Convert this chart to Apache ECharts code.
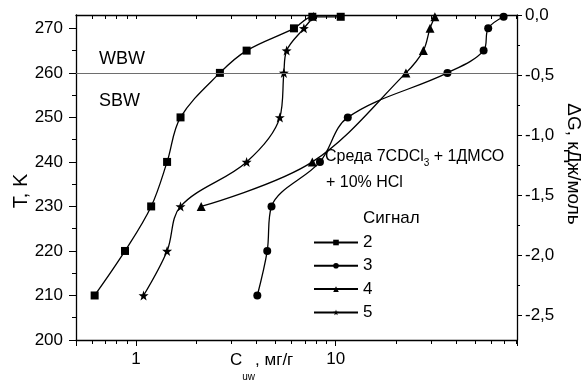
<!DOCTYPE html>
<html>
<head>
<meta charset="utf-8">
<script src="https://cdn.jsdelivr.net/npm/echarts@6/dist/echarts.min.js"></script>
<style>
  html, body { margin: 0; padding: 0; background: #fff; }
  #chart { width: 587px; height: 383px; }
</style>
</head>
<body>
<div id="chart"></div>
<script>
// signal 2 (squares)
const sig2T = [210, 220, 230, 240, 250, 260, 265, 270, 272.6, 272.6];
const sig2C = [0.62, 0.88, 1.19, 1.43, 1.67, 2.63, 3.58, 6.18, 7.64, 10.6];
// signal 3 (circles)
const sig3T = [210, 220, 230, 240, 250, 260, 265, 270, 272.6];
const sig3C = [4.05, 4.54, 4.77, 8.34, 11.5, 36.3, 55.1, 58.1, 69.4];
// signal 4 (triangles)
const sig4T = [230, 240, 260, 265, 270, 272.6];
const sig4C = [2.12, 7.64, 22.5, 27.5, 29.7, 31.4];
// signal 5 (stars)
const sig5T = [210, 220, 230, 240, 250, 260, 265, 270, 272.6];
const sig5C = [1.09, 1.43, 1.67, 3.58, 5.25, 5.5, 5.68, 6.93, 7.76];

const xMin = 0.5, xMax = 81;
const xMajor = [1, 10];
const xMinor = [0.6, 0.7, 0.8, 0.9, 2, 3, 4, 5, 6, 7, 8, 9, 20, 30, 40, 50, 60, 70, 80];
const tMajor = [200, 210, 220, 230, 240, 250, 260, 270];
const tMinor = [205, 215, 225, 235, 245, 255, 265];
const gMajor = [0, -0.5, -1, -1.5, -2, -2.5];
const gMinor = [-0.25, -0.75, -1.25, -1.75, -2.25];
const boundaryT = 260;

const FONT = 'Liberation Sans, Arial, sans-serif';
const STAR = 'path://M0,-10L2.35,-3.24L9.51,-3.09L3.8,1.24L5.88,8.09L0,4L-5.88,8.09L-3.8,1.24L-9.51,-3.09L-2.35,-3.24Z';

const chart = echarts.init(document.getElementById('chart'));

function line(name, C, T, symbol, size) {
  return {
    name: name,
    type: 'line',
    data: C.map((c, i) => [c, T[i]]),
    smooth: 0.35,
    symbol: symbol,
    symbolSize: size,
    showSymbol: true,
    lineStyle: { color: '#000', width: 1.3 },
    itemStyle: { color: '#000' },
    z: 3
  };
}

const series = [
  line('2', sig2C, sig2T, 'rect', 8),
  line('3', sig3C, sig3T, 'circle', 8),
  line('4', sig4C, sig4T, 'triangle', 9),
  line('5', sig5C, sig5T, STAR, 10)
];
series[0].markLine = {
  silent: true,
  symbol: 'none',
  label: { show: false },
  lineStyle: { color: '#6e6e6e', width: 1, type: 'solid' },
  data: [{ yAxis: boundaryT }]
};

const axisLine = { show: true, onZero: false, lineStyle: { color: '#000', width: 1.3 } };
const noLine = { show: false, onZero: false };
const tickStyle = { color: '#000', width: 1 };
const labelStyle = { color: '#000', fontSize: 17, fontFamily: FONT };

// helper axes for the log ticks (in log10 units, same span as the log axis)
const lgMin = Math.log10(xMin), lgMax = Math.log10(xMax);

const option = {
  animation: false,
  backgroundColor: '#fff',
  grid: { left: 76, right: 70, top: 15, bottom: 43, outerBoundsMode: 'none' },
  legend: {
    orient: 'vertical',
    left: 313,
    top: 234,
    padding: 0,
    itemWidth: 44,
    itemHeight: 7,
    itemGap: 6.3,
    selectedMode: false,
    textStyle: { color: '#000', fontSize: 17, lineHeight: 17, fontFamily: FONT },
    data: ['2', '3', '4', '5']
  },
  xAxis: [
    {
      type: 'log', logBase: 10, min: xMin, max: xMax, position: 'bottom',
      axisLine: axisLine,
      axisTick: { length: 6, lineStyle: tickStyle },
      axisLabel: Object.assign({ customValues: xMajor, margin: 11 }, labelStyle),
      splitLine: { show: false }
    },
    {
      type: 'value', min: lgMin, max: lgMax, position: 'bottom',
      axisLine: noLine,
      axisTick: { customValues: xMinor.map(Math.log10), length: 4, lineStyle: tickStyle },
      axisLabel: { show: false },
      splitLine: { show: false }
    },
    {
      type: 'value', min: lgMin, max: lgMax, position: 'top',
      axisLine: axisLine,
      axisTick: { customValues: xMajor.concat(xMinor).map(Math.log10), length: 4, inside: true, lineStyle: tickStyle },
      axisLabel: { show: false },
      splitLine: { show: false }
    }
  ],
  yAxis: [
    {
      type: 'value', min: 200, max: 273, position: 'left',
      axisLine: axisLine,
      axisTick: { customValues: tMajor, length: 7, lineStyle: tickStyle },
      axisLabel: Object.assign({ customValues: tMajor, margin: 13 }, labelStyle),
      splitLine: { show: false }
    },
    {
      type: 'value', min: -2.7083, max: 0, position: 'right',
      axisLine: axisLine,
      axisTick: { customValues: gMajor, length: 5, lineStyle: tickStyle },
      axisLabel: Object.assign({
        customValues: gMajor, margin: 8,
        formatter: v => v.toFixed(1).replace('.', ',')
      }, labelStyle),
      splitLine: { show: false }
    },
    {
      type: 'value', min: 200, max: 273, position: 'left',
      axisLine: noLine,
      axisTick: { customValues: tMinor, length: 4, lineStyle: tickStyle },
      axisLabel: { show: false },
      splitLine: { show: false }
    },
    {
      type: 'value', min: -2.7083, max: 0, position: 'right',
      axisLine: noLine,
      axisTick: { customValues: gMinor, length: 3, lineStyle: tickStyle },
      axisLabel: { show: false },
      splitLine: { show: false }
    }
  ],
  graphic: [
    { type: 'text', x: 99, y: 59, style: { text: 'WBW', font: '18px ' + FONT, fill: '#000', verticalAlign: 'middle' } },
    { type: 'text', x: 99, y: 101, style: { text: 'SBW', font: '18px ' + FONT, fill: '#000', verticalAlign: 'middle' } },
    {
      type: 'text', x: 325, y: 157,
      style: {
        text: 'Среда 7CDCl{s|3} + 1ДМСО', font: '16px ' + FONT, fill: '#000', verticalAlign: 'middle',
        rich: { s: { fontSize: 10, fontFamily: FONT, verticalAlign: 'bottom', lineHeight: 10 } }, lineHeight: 22
      }
    },
    { type: 'text', x: 326, y: 183, style: { text: '+ 10% HCl', font: '16px ' + FONT, fill: '#000', verticalAlign: 'middle' } },
    { type: 'text', x: 363, y: 218, style: { text: 'Сигнал', font: '17px ' + FONT, fill: '#000', verticalAlign: 'middle' } },
    {
      type: 'text', x: 230, y: 360,
      style: {
        text: 'C{s|uw}, мг/г', font: '17px ' + FONT, fill: '#000', verticalAlign: 'middle', lineHeight: 44,
        rich: { s: { fontSize: 10, fontFamily: FONT, verticalAlign: 'bottom', lineHeight: 10 } }
      }
    },
    {
      type: 'text', x: 21, y: 191, rotation: Math.PI / 2,
      style: { text: 'T, K', font: '20px ' + FONT, fill: '#000', align: 'center', verticalAlign: 'middle' }
    },
    {
      type: 'text', x: 573, y: 164, rotation: -Math.PI / 2,
      style: { text: 'ΔG, кДж/моль', font: '19px ' + FONT, fill: '#000', align: 'center', verticalAlign: 'middle' }
    }
  ],
  series: series
};

chart.setOption(option);
</script>
</body>
</html>
